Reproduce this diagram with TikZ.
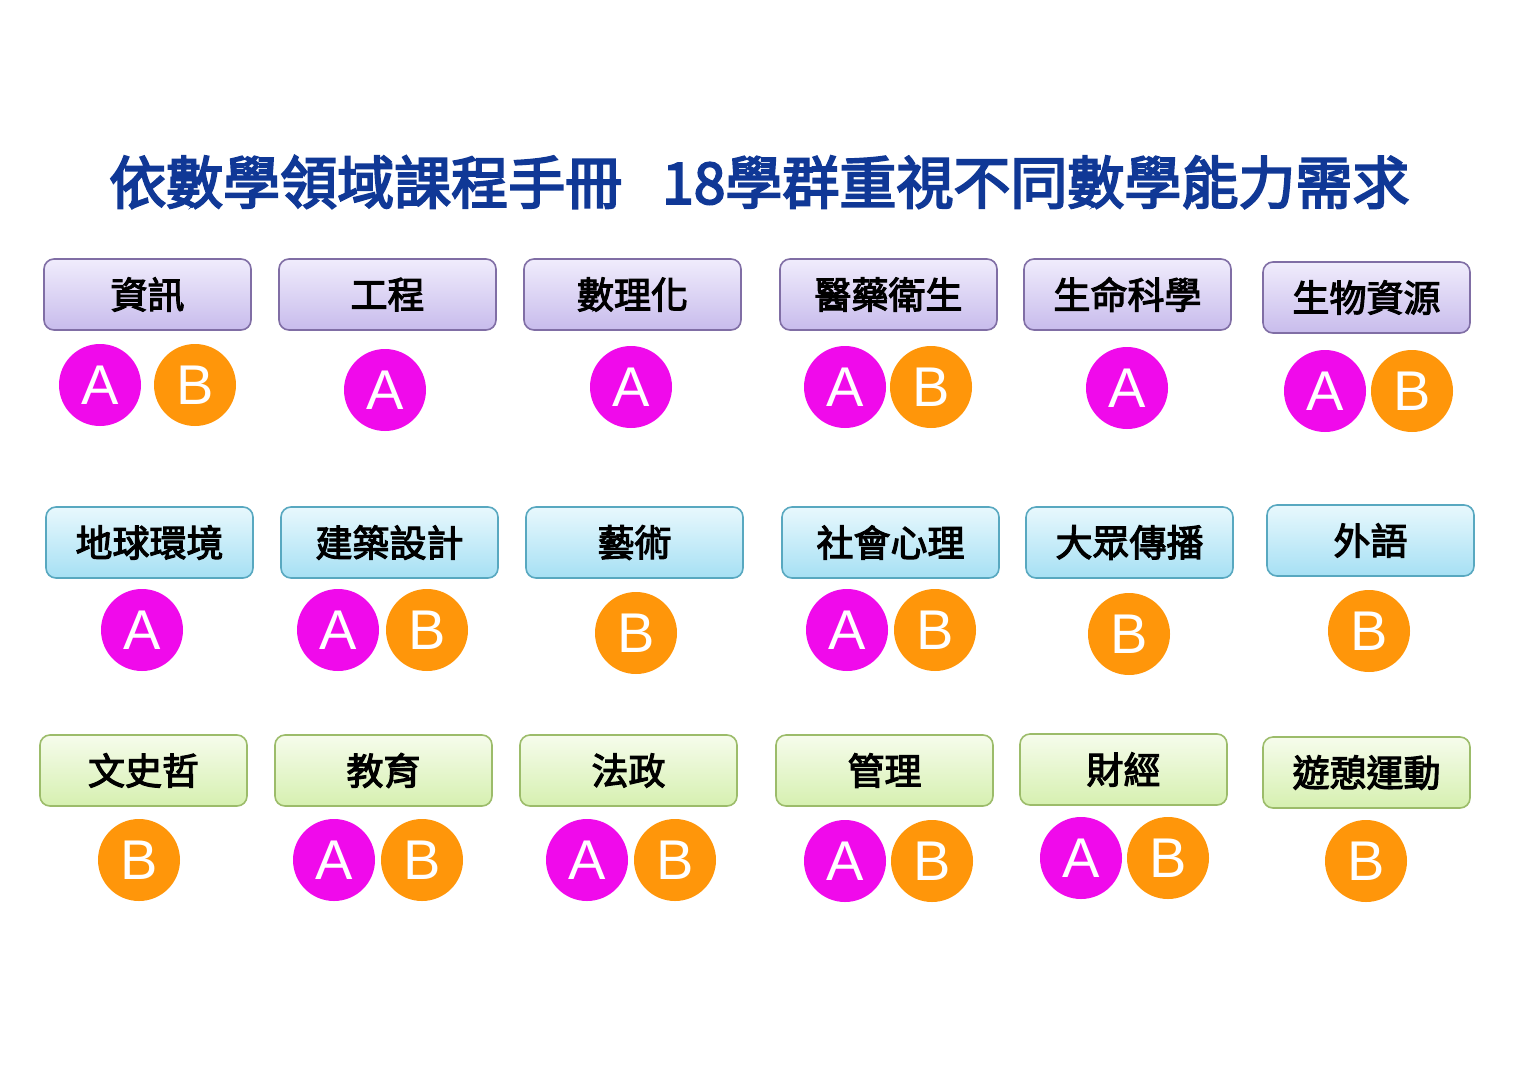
\documentclass[tikz,border=0pt]{standalone}
\usepackage{fontspec}
\newfontfamily\cjk[FakeBold=3]{Noto Sans CJK TC}
\newfontfamily\cjktitle[FakeBold=3.5]{Noto Sans CJK TC}
\newfontfamily\letterfont{Liberation Sans}
\definecolor{titleblue}{RGB}{16,56,150}
\definecolor{gradeA}{RGB}{240,10,235}
\definecolor{gradeB}{RGB}{255,150,10}
\definecolor{purpletop}{RGB}{240,236,252}
\definecolor{purplebot}{RGB}{200,188,236}
\definecolor{purpleline}{RGB}{128,110,165}
\definecolor{bluetop}{RGB}{232,248,253}
\definecolor{bluebot}{RGB}{166,224,244}
\definecolor{blueline}{RGB}{88,168,192}
\definecolor{greentop}{RGB}{246,252,236}
\definecolor{greenbot}{RGB}{214,240,176}
\definecolor{greenline}{RGB}{156,188,106}
\tikzset{
  group/.style={rounded corners=10pt,line width=1.6pt,minimum width=207pt,minimum height=71pt,
    inner sep=0pt,font=\cjk\fontsize{37}{37}\selectfont},
  wide/.style={minimum width=217pt},
  groupP/.style={group,draw=purpleline,top color=purpletop,bottom color=purplebot},
  groupB/.style={group,draw=blueline,top color=bluetop,bottom color=bluebot},
  groupG/.style={group,draw=greenline,top color=greentop,bottom color=greenbot},
  grade/.style={circle,minimum size=82pt,inner sep=0pt,text=white,
    font=\letterfont\fontsize{56}{56}\selectfont},
  gradeA/.style={grade,fill=gradeA},
  gradeB/.style={grade,fill=gradeB}
}
\begin{document}
\begin{tikzpicture}[x=1pt,y=-1pt]
\useasboundingbox[fill=white] (0,0) rectangle (1522,1076);

% Title.
\node[anchor=west,inner sep=0pt,text=titleblue,font=\cjktitle\fontsize{57}{57}\selectfont] (title) at (109,182)
  {依數學領域課程手冊\hspace{40pt}18學群重視不同數學能力需求};

% First row of groups.
\node[groupP]      (info)  at (147.5,294.5)  {資訊};
\node[groupP,wide] (eng)   at (387.5,294.5)  {工程};
\node[groupP,wide] (sci)   at (632.5,294.5)  {數理化};
\node[groupP,wide] (med)   at (888.5,294.5)  {醫藥衛生};
\node[groupP]      (life)  at (1127.5,294.5) {生命科學};
\node[groupP]      (bio)   at (1366.5,297.5) {生物資源};

\node[gradeA] (infoA) at (100,385)  {A};
\node[gradeB] (infoB) at (195,385)  {B};
\node[gradeA] (engA)  at (385,390)  {A};
\node[gradeA] (sciA)  at (631,387)  {A};
\node[gradeA] (medA)  at (845,387)  {A};
\node[gradeB] (medB)  at (931,387)  {B};
\node[gradeA] (lifeA) at (1127,388) {A};
\node[gradeA] (bioA)  at (1325,391) {A};
\node[gradeB] (bioB)  at (1412,391) {B};

% Second row of groups.
\node[groupB]      (earth) at (149.5,542.5)  {地球環境};
\node[groupB,wide] (arch)  at (389.5,542.5)  {建築設計};
\node[groupB,wide] (art)   at (634.5,542.5)  {藝術};
\node[groupB,wide] (soc)   at (890.5,542.5)  {社會心理};
\node[groupB]      (media) at (1129.5,542.5) {大眾傳播};
\node[groupB]      (lang)  at (1370.5,540.5) {外語};

\node[gradeA] (earthA) at (142,630)  {A};
\node[gradeA] (archA)  at (338,630)  {A};
\node[gradeB] (archB)  at (427,630)  {B};
\node[gradeB] (artB)   at (636,633)  {B};
\node[gradeA] (socA)   at (847,630)  {A};
\node[gradeB] (socB)   at (935,630)  {B};
\node[gradeB] (mediaB) at (1129,634) {B};
\node[gradeB] (langB)  at (1369,631) {B};

% Third row of groups.
\node[groupG]      (hum)   at (143.5,770.5)  {文史哲};
\node[groupG,wide] (edu)   at (383.5,770.5)  {教育};
\node[groupG,wide] (law)   at (628.5,770.5)  {法政};
\node[groupG,wide] (mgmt)  at (884.5,770.5)  {管理};
\node[groupG]      (fin)   at (1123.5,769.5) {財經};
\node[groupG]      (sport) at (1366.5,772.5) {遊憩運動};

\node[gradeB] (humB)   at (139,860)  {B};
\node[gradeA] (eduA)   at (334,860)  {A};
\node[gradeB] (eduB)   at (422,860)  {B};
\node[gradeA] (lawA)   at (587,860)  {A};
\node[gradeB] (lawB)   at (675,860)  {B};
\node[gradeA] (mgmtA)  at (845,861)  {A};
\node[gradeB] (mgmtB)  at (932,861)  {B};
\node[gradeA] (finA)   at (1081,858) {A};
\node[gradeB] (finB)   at (1168,858) {B};
\node[gradeB] (sportB) at (1366,861) {B};
\end{tikzpicture}
\end{document}
